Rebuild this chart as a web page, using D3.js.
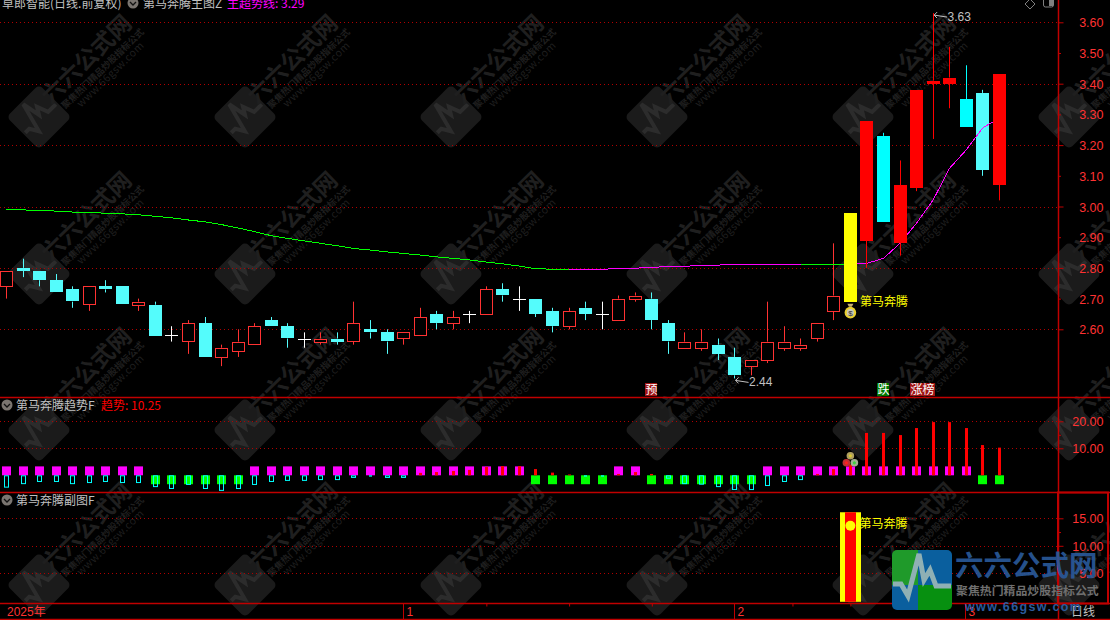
<!DOCTYPE html>
<html><head><meta charset="utf-8">
<script src="https://cdn.jsdelivr.net/npm/d3@7"></script>
<style>
html,body{margin:0;padding:0;background:#000;overflow:hidden}
svg{display:block}
text{font-family:"Liberation Sans","Noto Sans CJK SC",sans-serif;font-size:12px}
.cjk{font-family:"Noto Sans CJK SC",sans-serif}
</style></head><body>
<svg id="c" width="1110" height="620"></svg>
<script>
// ---------- data ----------
const opens  = [2.74,2.80,2.79,2.76,2.73,2.68,2.74,2.74,2.68,2.68,2.58,2.56,2.62,2.51,2.53,2.55,2.63,2.61,2.57,2.56,2.57,2.56,2.60,2.59,2.57,2.58,2.65,2.62,2.65,2.65,2.73,2.70,2.70,2.66,2.61,2.67,2.65,2.63,2.70,2.70,2.62,2.54,2.54,2.55,2.51,2.48,2.50,2.54,2.54,2.57,2.66,2.69,2.89,3.23,2.88,3.06,3.40,3.40,3.35,3.37,3.07];
const closes = [2.79,2.79,2.76,2.72,2.69,2.74,2.73,2.68,2.69,2.58,2.58,2.62,2.51,2.54,2.56,2.61,2.61,2.57,2.57,2.57,2.56,2.62,2.59,2.56,2.59,2.64,2.62,2.64,2.65,2.73,2.71,2.70,2.65,2.61,2.66,2.65,2.65,2.70,2.71,2.63,2.56,2.56,2.56,2.52,2.45,2.50,2.56,2.56,2.55,2.62,2.71,2.98,3.28,2.95,3.07,3.38,3.41,3.42,3.26,3.12,3.43];
const highs  = [2.79,2.83,2.79,2.78,2.74,2.74,2.76,2.74,2.70,2.69,2.61,2.63,2.64,2.55,2.60,2.62,2.64,2.62,2.59,2.59,2.59,2.69,2.63,2.60,2.59,2.67,2.66,2.66,2.66,2.74,2.75,2.74,2.70,2.67,2.67,2.69,2.69,2.71,2.72,2.72,2.63,2.59,2.60,2.57,2.54,2.50,2.69,2.61,2.57,2.62,2.88,2.98,3.28,3.24,3.15,3.38,3.63,3.52,3.46,3.38,3.43];
const lows   = [2.70,2.77,2.74,2.72,2.67,2.66,2.72,2.68,2.66,2.58,2.56,2.52,2.51,2.48,2.51,2.55,2.61,2.54,2.54,2.55,2.55,2.55,2.57,2.52,2.55,2.58,2.60,2.60,2.62,2.65,2.69,2.66,2.64,2.59,2.60,2.63,2.60,2.63,2.69,2.60,2.52,2.54,2.53,2.50,2.44,2.45,2.49,2.53,2.53,2.56,2.63,2.69,2.80,2.95,2.84,3.05,3.22,3.32,3.26,3.10,3.02];
const trendLine = [2.990,2.989,2.987,2.985,2.982,2.981,2.978,2.976,2.973,2.968,2.963,2.956,2.950,2.941,2.930,2.918,2.905,2.896,2.888,2.880,2.872,2.863,2.858,2.852,2.847,2.842,2.836,2.831,2.826,2.819,2.813,2.806,2.797,2.796,2.795,2.795,2.795,2.799,2.799,2.802,2.804,2.805,2.809,2.809,2.812,2.812,2.812,2.812,2.812,2.812,2.812,2.812,2.815,2.831,2.880,2.946,3.021,3.125,3.184,3.256,3.288];
const trendStick = [-4.2,-2.9,-2.1,-2.1,-2.9,-2.5,-2.1,-2.5,-2.5,-4.0,-4.7,-3.2,-4.7,-5.4,-4.7,-3.2,-2.1,-1.7,-1.7,-1.4,-1.4,-0.6,-0.3,-0.6,-0.6,0.9,1.2,1.6,2.0,3.1,3.4,3.4,2.3,1.0,0.3,-0.3,-0.3,0.5,1.2,0.5,-0.9,-2.9,-3.1,-4.0,-5.1,-5.1,-3.6,-2.1,-1.4,0.5,2.3,4.0,15.7,15.7,14.9,17.5,19.7,19.7,17.5,11.2,10.25];
const trendState = [1,1,1,1,1,1,1,1,1,-1,-1,-1,-1,-1,-1,1,1,1,1,1,1,1,1,1,1,1,1,1,1,1,1,1,-1,-1,-1,-1,-1,1,1,-1,-1,-1,-1,-1,-1,-1,1,1,1,1,1,1,1,1,1,1,1,1,1,-1,-1];
const subIndex = [51], subHigh = [16.1], subDot = [13.65];
const priceMajor = [3.6,3.4,3.2,3.0,2.8,2.6], priceMinor = [3.5,3.3,3.1,2.9,2.7];
const trendTicks = [20,10], subTicks = [15,10,5];
const monthIdx = [0,24,44,58], monthLabels = ["2025年","1","2","3"];
const minorIdx = [29,34,39,47.5,51,54.5];
const greenRanges = [[0,34],[48,51]];
const rallyStart = 51, pureCyan = [53,58];
const headTitle = "草郎智能(日线.前复权)", mainName = "第马奔腾主图Z", mainLine = "主超势线: 3.29";
const trendName = "第马奔腾趋势F", trendVal = "趋势: 10.25", subName = "第马奔腾副图F";
const signalName = "第马奔腾", wmTitle = "六六公式网", wmSub = "聚焦热门精品炒股指标公式", wmUrl = "www.66gsw.com";
const tags = [{i:39,t:"预",bg:"#a01414"},{i:53,t:"跌",bg:"#007a00"},{i:55,t:"涨榜",bg:"#a01414"}];

// ---------- scales ----------
const x  = d3.scaleLinear().domain([0,60]).range([6.5,999.3]);
const yM = d3.scaleLinear().domain([3.6,2.6]).range([22.3,329.3]);
const yT = d3.scaleLinear().domain([20,10]).range([421.3,448.3]);
const yS = d3.scaleLinear().domain([15,5]).range([518.3,573.3]);
const axisX = 1058, frame = "#c00000", lblRed = "#ff3232", redStroke = "#ff3232";

const svg = d3.select("#c");
svg.append("rect").attr("width",1110).attr("height",620).attr("fill","#000");

// ---------- watermark ----------
const wavePts = [[-29,2],[-21,2],[-14,14],[-3,-28],[2,-2],[8,-12],[14,4],[29,4]];
const waveLine = d3.line();
const wm = svg.append("g");
for (const cy of [117,274,430,585]) for (let k=0;k<6;k++){
  const cx = 39+206*k, g = wm.append("g").attr("transform",`translate(${cx},${cy})`);
  g.append("rect").attr("x",-23).attr("y",-23).attr("width",46).attr("height",46).attr("rx",5)
    .attr("transform","rotate(45)").attr("fill","#1b1b1b");
  g.append("path").attr("d",waveLine(wavePts.map(p=>[p[0]*.72,p[1]*.72]))).attr("transform","rotate(-45)")
    .attr("fill","none").attr("stroke","#2c2c2c").attr("stroke-width",4);
  const t=(dx,dy,s,size,w,ls)=>g.append("text").attr("class","cjk")
    .attr("transform",`translate(${dx},${dy}) rotate(-44)`).attr("text-anchor","middle")
    .style("font-size",size+"px").style("font-weight",w).style("letter-spacing",ls+"px")
    .attr("fill","#1f1f1f").text(s);
  t(53,-52,wmTitle,23,700,0);
  t(66,-46,wmSub,9.2,700,0);
  t(74,-40,wmUrl,10.5,400,.5);
}

// ---------- grid ----------
const grid=(vals,y)=>svg.append("g").selectAll("line").data(vals).join("line")
  .attr("x1",0).attr("x2",axisX).attr("y1",d=>Math.round(y(d))+.5).attr("y2",d=>Math.round(y(d))+.5)
  .attr("stroke","#b00000").attr("stroke-dasharray","1,3");
grid(priceMajor,yM); grid(trendTicks,yT); grid(subTicks,yS);

// ---------- candles ----------
const idx = d3.range(opens.length);
const colorOf = i => i===rallyStart ? "#ffff00"
  : closes[i]>opens[i] ? (i>rallyStart?"#ff0000":redStroke)
  : closes[i]<opens[i] ? (pureCyan.includes(i)?"#00ffff":"#54fcfc") : "#ffffff";
const isSolid = i => i===rallyStart || closes[i]<opens[i] || (closes[i]>opens[i] && i>rallyStart);
function drawCandles(list){
  const g = svg.append("g");
  for(const i of list){
    const cx=x(i), c=colorOf(i), top=yM(Math.max(opens[i],closes[i])), bot=yM(Math.min(opens[i],closes[i]));
    const wx=Math.round(cx-.5)+.5, l=Math.round(cx-6.5);
    if(i!==rallyStart){
      g.append("line").attr("x1",wx).attr("x2",wx).attr("y1",yM(highs[i])).attr("y2",top).attr("stroke",c);
      g.append("line").attr("x1",wx).attr("x2",wx).attr("y1",bot).attr("y2",yM(lows[i])).attr("stroke",c);
    }
    if(opens[i]===closes[i]){
      g.append("line").attr("x1",l).attr("x2",l+13).attr("y1",Math.round(top)+.5).attr("y2",Math.round(top)+.5).attr("stroke",c);
    } else if(isSolid(i)){
      g.append("rect").attr("x",l).attr("width",13).attr("y",Math.round(top)).attr("height",Math.max(2,Math.round(bot-top))).attr("fill",c);
    } else {
      g.append("rect").attr("x",l+.5).attr("width",12).attr("y",Math.round(top)+.5).attr("height",Math.max(2,Math.round(bot-top)))
        .attr("fill","#000").attr("stroke",c);
    }
  }
}
drawCandles(idx.filter(i=>!(i===rallyStart||(i>rallyStart&&closes[i]>opens[i]))));

// trend line
const lineGen = d3.line().x(i=>x(i)).y(i=>yM(trendLine[i]));
const isGreen = i => greenRanges.some(r=>i>=r[0]&&i<r[1]);
for(const i of idx.slice(0,-1)){
  svg.append("path").attr("d",lineGen([i,i+1])).attr("fill","none").attr("shape-rendering","crispEdges")
    .attr("stroke",isGreen(i)?"#00ff00":"#ff00ff");
}
drawCandles(idx.filter(i=>i===rallyStart||(i>rallyStart&&closes[i]>opens[i])));

// extreme labels
const iMax=d3.greatestIndex(highs), iMin=d3.leastIndex(lows);
const ext=(i,v,dy)=>{
  const px=x(i), py=yM(v)+dy;
  svg.append("path").attr("d",`M${px+4},${py-3}L${px+1},${py}L${px+4},${py+3}M${px+1},${py}L${px+14},${py+2}`).attr("fill","none").attr("stroke","#c0c0c0");
  svg.append("text").attr("x",px+14.5).attr("y",py+6).attr("fill","#c0c0c0").text(v.toFixed(2));
};
ext(iMax,highs[iMax],2); ext(iMin,lows[iMin],2);

// signal bag + label
const bagX=x(rallyStart), bagY=yM(opens[rallyStart])+10;
svg.append("path").attr("d",`M${bagX-3},${bagY-8}h6l-1.5,3h-3z`).attr("fill","#c8b070");
svg.append("circle").attr("cx",bagX).attr("cy",bagY+1).attr("r",5.8).attr("fill","#e8d030");
svg.append("circle").attr("cx",bagX).attr("cy",bagY+1).attr("r",3.6).attr("fill","#c8c8b8");
svg.append("text").attr("x",bagX).attr("y",bagY+4).attr("text-anchor","middle").style("font-size","8px").attr("fill","#333").text("$");
svg.append("text").attr("class","cjk").attr("x",860).attr("y",yM(opens[rallyStart])+4).attr("fill","#ffff00").text(signalName);

// tag boxes
for(const tg of tags){
  const w=13*tg.t.length-1, l=Math.round(x(tg.i)-6.5);
  svg.append("rect").attr("x",l).attr("y",383).attr("width",w).attr("height",13).attr("fill",tg.bg);
  svg.append("text").attr("class","cjk").attr("x",l+.5).attr("y",394).attr("fill","#fff").text(tg.t);
}

// ---------- trend panel ----------
const gT=svg.append("g");
for(const i of idx){
  const l=Math.round(x(i)-4.5);
  const pos=trendState[i]>0;
  gT.append("rect").attr("x",l).attr("width",9).attr("y",pos?yT(3.3):yT(0)).attr("height",Math.abs(yT(3.3)-yT(0)))
    .attr("fill",pos?"#ff00ff":"#00ff00");
}
for(const i of idx){
  const v=trendStick[i], y0=yT(0), wx=Math.round(x(i)-.5);
  if(v>=0) gT.append("rect").attr("x",wx-1).attr("width",3).attr("y",yT(v)).attr("height",y0-yT(v)).attr("fill","#ff0000");
  else if(v>-0.5) gT.append("rect").attr("x",wx-1).attr("width",3).attr("y",y0).attr("height",yT(v)-y0+.5).attr("fill","#00ffff");
  else gT.append("rect").attr("x",wx-1.5).attr("width",4).attr("y",y0+.5).attr("height",yT(v)-y0).attr("fill","none").attr("stroke","#00ffff");
}
const ballX=x(rallyStart);
[[0,-19.5,"#b0a060","#d8c830"],[-4,-12.5,"#c03030","#ff2020"],[4,-12.5,"#a0b090","#40d040"]].forEach(b=>{
  svg.append("circle").attr("cx",ballX+b[0]).attr("cy",yT(0)+b[1]).attr("r",3.8).attr("fill",b[2]);
  svg.append("circle").attr("cx",ballX+b[0]).attr("cy",yT(0)+b[1]).attr("r",1.6).attr("fill",b[3]);
});

// ---------- sub panel ----------
subIndex.forEach((i,k)=>{
  const l=Math.round(x(i)-10.5);
  svg.append("rect").attr("x",l).attr("width",21).attr("y",yS(subHigh[k])).attr("height",yS(0)-yS(subHigh[k])+1).attr("fill","#ffff00");
  svg.append("rect").attr("x",l+5).attr("width",11).attr("y",yS(subHigh[k])).attr("height",yS(0)-yS(subHigh[k])+1).attr("fill","#ff0000");
  svg.append("circle").attr("cx",x(i)).attr("cy",yS(subDot[k])).attr("r",5).attr("fill","#ffff00");
  svg.append("text").attr("class","cjk").attr("x",x(i)+9).attr("y",yS(subDot[k])+2).attr("fill","#ffff00").text(signalName);
});

// ---------- frames ----------
const hl=(y,x1=0,x2=1110,w=1.5)=>svg.append("line").attr("x1",x1).attr("x2",x2).attr("y1",y).attr("y2",y).attr("stroke",frame).attr("stroke-width",w);
hl(397.5); hl(492.5); hl(603.5); hl(619.5);
svg.append("line").attr("x1",axisX+.5).attr("x2",axisX+.5).attr("y1",0).attr("y2",620).attr("stroke",frame).attr("stroke-width",1.5);
svg.append("rect").attr("x",axisX).attr("y",492.5).attr("width",50).attr("height",111).attr("fill","none").attr("stroke",frame).attr("stroke-width",2);

// ---------- axes ----------
function yAxis(y,labelled,shortTicks,shortLabelled){
  const g=svg.append("g").attr("transform",`translate(${axisX+.5},0)`);
  g.call(d3.axisRight(y).tickValues(labelled).tickSize(5).tickFormat(d3.format(".2f")));
  g.select(".domain").remove();
  g.selectAll("line").attr("stroke",frame);
  const m=svg.append("g").attr("transform",`translate(${axisX+.5},0)`);
  m.call(d3.axisRight(y).tickValues(shortTicks).tickSize(2.5).tickFormat(shortLabelled?d3.format(".2f"):""));
  m.select(".domain").remove();
  m.selectAll("line").attr("stroke",frame);
  [g,m].forEach(s=>s.selectAll("text").attr("x",45).attr("text-anchor","end").attr("fill",lblRed)
    .style("font-size","12.5px").style("font-family",'"Liberation Sans"').attr("dy","0.36em"));
}
yAxis(yM,priceMajor,priceMinor,true);
yAxis(yT,trendTicks,[15],false);
yAxis(yS,subTicks,[12.5,7.5],false);

const bottom=svg.append("g").attr("transform","translate(0,603.5)");
const minorAxis=d3.axisBottom(x).tickValues(minorIdx).tickSize(3).tickFormat("");
bottom.call(minorAxis); bottom.select(".domain").remove(); bottom.selectAll("line").attr("stroke",frame);
monthIdx.forEach((m,k)=>{
  const px=Math.round(x(m))-.5;
  if(k>0) svg.append("line").attr("x1",px).attr("x2",px).attr("y1",603).attr("y2",619).attr("stroke",frame);
  svg.append("text").attr("x",k===0?7:px+3).attr("y",616).attr("fill",lblRed).style("font-family",'"Liberation Sans","Noto Sans CJK SC"').text(monthLabels[k]);
});
svg.append("text").attr("class","cjk").attr("x",1071).attr("y",616).attr("fill","#c0c0c0").text("日线");

// ---------- titles ----------
function chevron(cx,cy){
  svg.append("circle").attr("cx",cx).attr("cy",cy).attr("r",5.5).attr("fill","#7a7570");
  svg.append("path").attr("d",`M${cx-3},${cy-1}L${cx},${cy+2}L${cx+3},${cy-1}`).attr("fill","none").attr("stroke","#111").attr("stroke-width",1.3);
}
const txt=(xx,yy,s,c)=>svg.append("text").attr("class","cjk").attr("x",xx).attr("y",yy).attr("fill",c).text(s);
txt(2,8,headTitle,"#c0c0c0");
chevron(133,3);
txt(143,8,mainName,"#c0c0c0");
txt(227,8,mainLine,"#ff00ff");
chevron(7,405); txt(16,410,trendName,"#c0c0c0"); txt(101,410,trendVal,"#ff0000");
chevron(7,500); txt(16,505,subName,"#c0c0c0");
// top-right icons
svg.append("path").attr("d","M1030,-1l5,5l-5,5l-5,-5z").attr("fill","none").attr("stroke","#808080");
svg.append("rect").attr("x",1043.5).attr("y",-3).attr("width",10).attr("height",10).attr("rx",2).attr("fill","none").attr("stroke","#808080");
svg.append("rect").attr("x",1049).attr("y",-2).attr("width",4).attr("height",8).attr("fill","#808080");

// ---------- logo ----------
const defs=svg.append("defs");
defs.append("clipPath").attr("id","lc").append("rect").attr("x",892).attr("y",550).attr("width",60).attr("height",60).attr("rx",5);
const lg=svg.append("g").attr("clip-path","url(#lc)");
[[892,550,26,35,"#1f9a2a"],[918,550,34,35,"#0a5f9e"],[892,585,26,25,"#0a5f9e"],[918,585,34,25,"#079010"]].forEach(r=>
  lg.append("rect").attr("x",r[0]).attr("y",r[1]).attr("width",r[2]).attr("height",r[3]).attr("fill",r[4]));
lg.append("path").attr("d",waveLine(wavePts.map(p=>[p[0]+922,p[1]+582]))).attr("fill","none").attr("stroke","#8fb0b4").attr("stroke-width",5);
svg.append("text").attr("class","cjk").attr("x",955).attr("y",576).attr("fill","#2a5a9c").attr("opacity",.9).style("font-size","28.5px").style("font-weight",700).text(wmTitle);
svg.append("text").attr("class","cjk").attr("x",956).attr("y",595).attr("fill","#6f6f6f").style("font-size","11.9px").style("font-weight",700).text(wmSub);
svg.append("text").attr("x",965).attr("y",611).attr("fill","#2a5a9c").style("font-size","12.5px").style("font-weight",700).style("letter-spacing","1.4px").text(wmUrl);
</script>
</body></html>
